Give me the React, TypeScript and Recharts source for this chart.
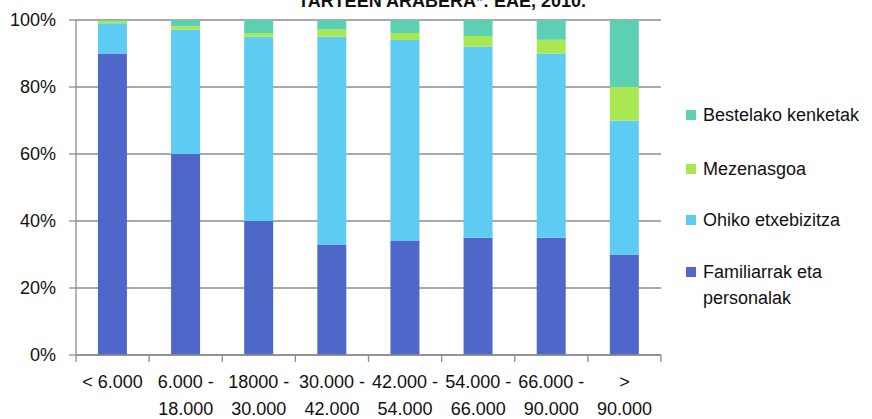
import { BarChart, Bar, XAxis, YAxis, CartesianGrid } from 'recharts';

const categories = [
  ['< 6.000', ''],
  ['6.000 -', '18.000'],
  ['18000 -', '30.000'],
  ['30.000 -', '42.000'],
  ['42.000 -', '54.000'],
  ['54.000 -', '66.000'],
  ['66.000 -', '90.000'],
  ['>', '90.000'],
];
const familiarrak = [90, 60, 40, 33, 34, 35, 35, 30];
const ohiko = [9, 37.1, 55, 62, 60, 57, 55, 40];
const mezenasgoa = [0.8, 1, 1.1, 2.2, 2.1, 3.2, 4.1, 10];
const bestelako = [0.2, 1.9, 3.9, 2.8, 3.9, 4.8, 5.9, 20];
const yTicks = [0, 20, 40, 60, 80, 100];

const SERIES = [
  { key: 'fam', name: 'Familiarrak eta personalak', color: '#4f67c9' },
  { key: 'ohiko', name: 'Ohiko etxebizitza', color: '#5ecbf3' },
  { key: 'mez', name: 'Mezenasgoa', color: '#a9e853' },
  { key: 'best', name: 'Bestelako kenketak', color: '#5dcfb2' },
];

const data = categories.map((c, i) => ({
  name: c.join(' '),
  l1: c[0],
  l2: c[1],
  fam: familiarrak[i],
  ohiko: ohiko[i],
  mez: mezenasgoa[i],
  best: bestelako[i],
}));

const FONT = '"Liberation Sans", Arial, sans-serif';
const GRAY = '#8c8c8c';

function XTick(props: any) {
  const { x, y, payload, index, width, visibleTicksCount } = props;
  const band = width && visibleTicksCount ? width / visibleTicksCount : 73.25;
  const row = data[index] || { l1: payload.value, l2: '' };
  return (
    <g>
      <line x1={x - band / 2} x2={x - band / 2} y1={y} y2={y + 7} stroke={GRAY} strokeWidth={1.3} />
      {index === data.length - 1 && (
        <line x1={x + band / 2} x2={x + band / 2} y1={y} y2={y + 7} stroke={GRAY} strokeWidth={1.3} />
      )}
      <text x={x} y={y + 33} textAnchor="middle" fontSize={18} fontFamily={FONT} fill="#111">
        {row.l1}
      </text>
      <text x={x} y={y + 60} textAnchor="middle" fontSize={18} fontFamily={FONT} fill="#111">
        {row.l2}
      </text>
    </g>
  );
}

function SideLegend() {
  const items = [...SERIES].reverse();
  const tops = [110, 164, 215, 267];
  return (
    <div style={{ position: 'absolute', left: 686, top: 0, width: 186, fontFamily: FONT, fontSize: 18, color: '#111' }}>
      {items.map((s, i) => (
        <div key={s.key} style={{ position: 'absolute', top: tops[i], left: 0 }}>
          <div style={{ position: 'absolute', left: 0, top: 0, width: 10, height: 10, background: s.color }} />
          <div style={{ position: 'absolute', left: 17, top: -8, width: 170, lineHeight: '26px' }}>{s.name}</div>
        </div>
      ))}
    </div>
  );
}

export default function App() {
  return (
    <div style={{ position: 'relative', width: 872, height: 419, overflow: 'hidden', background: '#fff' }}>
      <style>{`body{margin:0}`}</style>
      <div
        style={{
          position: 'absolute',
          top: -8,
          left: 0,
          width: 884,
          textAlign: 'center',
          fontFamily: FONT,
          fontWeight: 'bold',
          fontSize: 18,
          lineHeight: '18px',
          color: '#111',
        }}
      >
        TARTEEN ARABERA*: EAE, 2010.
      </div>
      <BarChart
        width={872}
        height={419}
        data={data}
        margin={{ top: 20, right: 211, bottom: 0, left: 0 }}
        barCategoryGap="30%"
      >
        <CartesianGrid vertical={false} stroke={GRAY} strokeWidth={1.3} />
        <XAxis
          dataKey="name"
          tickLine={false}
          tickSize={0}
          tickMargin={0}
          axisLine={{ stroke: GRAY, strokeWidth: 1.3 }}
          tick={<XTick />}
          interval={0}
          height={64}
        />
        <YAxis
          width={76}
          domain={[0, 100]}
          ticks={yTicks}
          tickFormatter={(v) => `${v}%`}
          tickSize={7}
          tickMargin={13}
          tickLine={{ stroke: GRAY, strokeWidth: 1.3 }}
          axisLine={{ stroke: GRAY, strokeWidth: 1.3 }}
          tick={{ fontSize: 18, fontFamily: FONT, fill: '#111' }}
          allowDataOverflow
        />
        {SERIES.map((s) => (
          <Bar key={s.key} dataKey={s.key} name={s.name} stackId="a" fill={s.color} isAnimationActive={false} />
        ))}
      </BarChart>
      <SideLegend />
    </div>
  );
}
